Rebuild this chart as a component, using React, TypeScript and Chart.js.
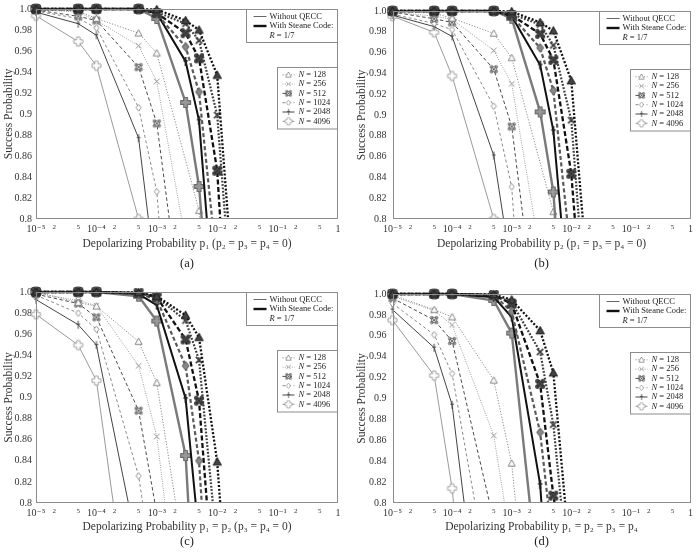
import React, { useEffect, useRef } from 'react';
import { Chart, registerables } from 'chart.js';

Chart.register(...registerables);

const FONT = "'Liberation Serif', 'DejaVu Serif', 'Times New Roman', serif";

// ---------- data ----------
// depolarizing probability grid (x values of the simulated points)
const P_GRID = [1e-5, 5e-5, 1e-4, 5e-4, 1e-3, 3e-3, 5e-3, 1e-2, 2e-2];

const X_TICKS = [1e-5, 2e-5, 5e-5, 1e-4, 2e-4, 5e-4, 1e-3, 2e-3, 5e-3, 1e-2, 2e-2, 5e-2, 1e-1, 2e-1, 5e-1, 1];
const X_TICK_LABELS = ['10⁻⁵', '2', '5', '10⁻⁴', '2', '5', '10⁻³', '2', '5', '10⁻²', '2', '5', '10⁻¹', '2', '5', '1'];
const Y_TICKS = [0.8, 0.82, 0.84, 0.86, 0.88, 0.9, 0.92, 0.94, 0.96, 0.98, 1.0];
const Y_TICK_LABELS = ['0.8', '0.82', '0.84', '0.86', '0.88', '0.9', '0.92', '0.94', '0.96', '0.98', '1.0'];
const N_VALUES = ['128', '256', '512', '1024', '2048', '4096'];
const Y_TITLE = 'Success Probability';
const LEGEND_WITHOUT = 'Without QECC';
const LEGEND_WITH = 'With Steane Code:';
const RATE_TEXT = ' = 1/7';

// (a) p1 only
const A_NO_128 = [1.0, 0.998, 0.991, 0.977, 0.958, null, 0.808, 0.65, null];
const A_NO_256 = [0.9995, 0.997, 0.989, 0.965, 0.931, null, 0.709, null, null];
const A_NO_512 = [0.999, 0.993, 0.989, 0.9446, 0.891, null, 0.584, null, null];
const A_NO_1024 = [0.998, 0.991, 0.982, 0.906, 0.826, null, 0.326, null, null];
const A_NO_2048 = [0.997, 0.986, 0.975, 0.877, 0.734, null, null, null, null];
const A_NO_4096 = [0.9935, 0.969, 0.946, 0.8, 0.6, null, null, null, null];
const A_QC_128 = [1, 1, 1, 1, 0.9995, 0.989, 0.98, 0.937, 0.708];
const A_QC_256 = [1, 1, 1, 1, 0.997, 0.986, 0.97, 0.899, 0.675];
const A_QC_512 = [1, 1, 1, 1, 0.996, 0.977, 0.953, 0.846, 0.567];
const A_QC_1024 = [1, 1, 1, 1, 0.995, 0.964, 0.921, 0.753, null];
const A_QC_2048 = [1, 1, 1, 1, 0.996, 0.95, 0.894, 0.675, null];
const A_QC_4096 = [1, 1, 1, 1, 0.991, 0.911, 0.831, 0.624, null];

// (b) p2 only
const B_NO_128 = [1.0, 0.998, 0.993, 0.9785, 0.955, null, 0.807, 0.65, null];
const B_NO_256 = [0.999, 0.995, 0.992, 0.962, 0.93, null, 0.691, null, null];
const B_NO_512 = [0.999, 0.9925, 0.989, 0.944, 0.889, null, 0.568, null, null];
const B_NO_1024 = [0.997, 0.988, 0.982, 0.9085, 0.831, null, 0.257, null, null];
const B_NO_2048 = [0.996, 0.985, 0.9755, 0.861, 0.749, null, null, null, null];
const B_NO_4096 = [0.995, 0.9795, 0.9375, 0.8, 0.6, null, null, null, null];
const B_QC_128 = [1, 1, 1, 1, 0.9995, 0.989, 0.981, 0.933, 0.725];
const B_QC_256 = [1, 1, 1, 1, 0.997, 0.987, 0.967, 0.895, 0.669];
const B_QC_512 = [1, 1, 1, 1, 0.996, 0.978, 0.953, 0.8435, 0.626];
const B_QC_1024 = [1, 1, 1, 1, 0.995, 0.9645, 0.9235, 0.762, null];
const B_QC_2048 = [1, 1, 1, 1, 0.995, 0.948, 0.885, 0.69, null];
const B_QC_4096 = [1, 1, 1, 1, 0.993, 0.903, 0.826, 0.587, null];

// (c) p1 = p2
const C_NO_128 = [1.0, 0.99, 0.9866, 0.953, 0.914, null, 0.66, null, null];
const C_NO_256 = [0.999, 0.992, 0.987, 0.93, 0.863, null, 0.538, null, null];
const C_NO_512 = [0.998, 0.989, 0.976, 0.8875, 0.79, null, null, null, null];
const C_NO_1024 = [0.997, 0.98, 0.9647, 0.8256, 0.712, null, null, null, null];
const C_NO_2048 = [0.9928, 0.969, 0.9497, 0.752, null, null, null, null, null];
const C_NO_4096 = [0.9788, 0.9497, 0.916, 0.626, null, null, null, null, null];
const C_QC_128 = [1, 1, 1, 0.9995, 0.996, 0.978, 0.957, 0.839, 0.603];
const C_QC_256 = [1, 1, 1, 0.999, 0.995, 0.973, 0.9356, 0.757, null];
const C_QC_512 = [1, 1, 1, 0.999, 0.995, 0.955, 0.897, 0.674, null];
const C_QC_1024 = [1, 1, 1, 0.998, 0.993, 0.93, 0.84, 0.573, null];
const C_QC_2048 = [1, 1, 1, 0.998, 0.9875, 0.899, 0.767, null, null];
const C_QC_4096 = [1, 1, 1, 0.996, 0.9725, 0.845, 0.62, null, null];

// (d) p1 = p2 = p3 = p4
const D_NO_128 = [0.999, 0.985, 0.978, 0.9175, 0.838, null, 0.438, null, null];
const D_NO_256 = [0.998, 0.984, 0.9704, 0.8645, 0.757, null, null, null, null];
const D_NO_512 = [0.996, 0.975, 0.955, 0.783, null, null, null, null, null];
const D_NO_1024 = [0.991, 0.961, 0.9237, 0.699, null, null, null, null, null];
const D_NO_2048 = [0.985, 0.9486, 0.894, 0.57, null, null, null, null, null];
const D_NO_4096 = [0.975, 0.922, 0.814, 0.4, null, null, null, null, null];
const D_QC_128 = [1, 1, 1, 0.9995, 0.9944, 0.965, 0.9246, 0.735, null];
const D_QC_256 = [1, 1, 1, 0.999, 0.992, 0.9446, 0.875, 0.703, null];
const D_QC_512 = [1, 1, 1, 0.999, 0.9907, 0.914, 0.807, 0.7, null];
const D_QC_1024 = [1, 1, 1, 0.999, 0.983, 0.8676, 0.755, null, null];
const D_QC_2048 = [1, 1, 1, 0.997, 0.978, 0.8178, 0.64, null, null];
const D_QC_4096 = [1, 1, 1, 0.9938, 0.9626, 0.708, null, null, null];

// ---------- styles ----------
type Style = { color: string; dash: number[]; width: number; marker: string; fill: string; mstroke: string; msize: number; mlw: number };
const NO_STYLE: Style[] = [
  { color: '#8c8c8c', dash: [1.2, 1.6], width: 1, marker: 'tri', fill: '#fff', mstroke: '#777', msize: 7, mlw: 0.9 },
  { color: '#a0a0a0', dash: [1, 1.3], width: 1, marker: 'x', fill: '#fff', mstroke: '#888', msize: 7, mlw: 0.9 },
  { color: '#4a4a4a', dash: [3.5, 2.5], width: 1, marker: 'box', fill: '#fff', mstroke: '#555', msize: 7.5, mlw: 0.9 },
  { color: '#8a8a8a', dash: [3, 2.5], width: 1, marker: 'diamond', fill: '#fff', mstroke: '#888', msize: 6.5, mlw: 0.9 },
  { color: '#444', dash: [], width: 1, marker: 'bar', fill: '#fff', mstroke: '#444', msize: 8, mlw: 1 },
  { color: '#9a9a9a', dash: [], width: 1, marker: 'plus', fill: '#fff', mstroke: '#999', msize: 9, mlw: 0.9 },
];
const QC_STYLE: Style[] = [
  { color: '#111', dash: [2, 1.8], width: 2.3, marker: 'tri', fill: '#444', mstroke: '#222', msize: 8, mlw: 1.1 },
  { color: '#3c3c3c', dash: [1.8, 1.6], width: 2.2, marker: 'x', fill: '#555', mstroke: '#444', msize: 8, mlw: 1.8 },
  { color: '#111', dash: [5, 2.5], width: 2.3, marker: 'box', fill: '#5a5a5a', mstroke: '#333', msize: 9, mlw: 1.1 },
  { color: '#5a5a5a', dash: [4, 2.5], width: 2.2, marker: 'diamond', fill: '#888', mstroke: '#666', msize: 8.5, mlw: 1.1 },
  { color: '#111', dash: [], width: 2.0, marker: 'bar', fill: '#333', mstroke: '#222', msize: 9, mlw: 1.8 },
  { color: '#7a7a7a', dash: [], width: 2.4, marker: 'plus', fill: '#999', mstroke: '#6a6a6a', msize: 10, mlw: 1.1 },
];

function makeMarker(kind: string, size: number, stroke: string, fill: string, lw: number): HTMLCanvasElement {
  const S = Math.ceil(size + lw * 2 + 2);
  const c = document.createElement('canvas');
  c.width = S;
  c.height = S;
  const g = c.getContext('2d') as CanvasRenderingContext2D;
  const cx = S / 2, cy = S / 2, r = size / 2;
  g.lineWidth = lw;
  g.strokeStyle = stroke;
  g.fillStyle = fill;
  g.lineJoin = 'round';
  g.beginPath();
  if (kind === 'tri') {
    g.moveTo(cx, cy - r);
    g.lineTo(cx + r, cy + r * 0.8);
    g.lineTo(cx - r, cy + r * 0.8);
    g.closePath();
    g.fill();
    g.stroke();
  } else if (kind === 'x') {
    const k = r * 0.8;
    g.moveTo(cx - k, cy - k); g.lineTo(cx + k, cy + k);
    g.moveTo(cx + k, cy - k); g.lineTo(cx - k, cy + k);
    g.stroke();
  } else if (kind === 'box') {
    const k = r * 0.62;
    const lobe = r * 0.38;
    g.arc(cx - k, cy - k, lobe, 0, Math.PI * 2);
    g.moveTo(cx + k + lobe, cy - k); g.arc(cx + k, cy - k, lobe, 0, Math.PI * 2);
    g.moveTo(cx + k + lobe, cy + k); g.arc(cx + k, cy + k, lobe, 0, Math.PI * 2);
    g.moveTo(cx - k + lobe, cy + k); g.arc(cx - k, cy + k, lobe, 0, Math.PI * 2);
    g.fill();
    g.stroke();
    g.beginPath();
    g.rect(cx - k, cy - k, 2 * k, 2 * k);
    g.fill();
    g.stroke();
    g.beginPath();
    g.moveTo(cx - k, cy - k); g.lineTo(cx + k, cy + k);
    g.moveTo(cx + k, cy - k); g.lineTo(cx - k, cy + k);
    g.stroke();
  } else if (kind === 'diamond') {
    g.moveTo(cx, cy - r); g.lineTo(cx + r * 0.8, cy); g.lineTo(cx, cy + r); g.lineTo(cx - r * 0.8, cy);
    g.closePath();
    g.fill();
    g.stroke();
  } else if (kind === 'bar') {
    g.moveTo(cx, cy - r); g.lineTo(cx, cy + r);
    g.moveTo(cx - r * 0.45, cy - r * 0.15); g.lineTo(cx + r * 0.45, cy - r * 0.15);
    g.stroke();
  } else if (kind === 'plus') {
    const a = r * 0.38;
    g.moveTo(cx - a, cy - r); g.lineTo(cx + a, cy - r); g.lineTo(cx + a, cy - a); g.lineTo(cx + r, cy - a);
    g.lineTo(cx + r, cy + a); g.lineTo(cx + a, cy + a); g.lineTo(cx + a, cy + r); g.lineTo(cx - a, cy + r);
    g.lineTo(cx - a, cy + a); g.lineTo(cx - r, cy + a); g.lineTo(cx - r, cy - a); g.lineTo(cx - a, cy - a);
    g.closePath();
    g.fill();
    g.stroke();
  }
  return c;
}

type PanelCfg = {
  caption: string;
  xTitle: string;
  no: (number | null)[][];
  qc: (number | null)[][];
  left: number; top: number; w: number; h: number;
  yAxisW: number; yTickPad: number; yTitlePad: number;
  padTop: number; padRight: number; xAxisH: number;
  capTop: number; capBottom: number;
};

const PANELS: PanelCfg[] = [
  {
    caption: '(a)', xTitle: 'Depolarizing Probability p₁ (p₂ = p₃ = p₄ = 0)',
    no: [A_NO_128, A_NO_256, A_NO_512, A_NO_1024, A_NO_2048, A_NO_4096],
    qc: [A_QC_128, A_QC_256, A_QC_512, A_QC_1024, A_QC_2048, A_QC_4096],
    left: 0, top: 0, w: 348, h: 280, yAxisW: 36, yTickPad: 4, yTitlePad: 2,
    padTop: 5, padRight: 10, xAxisH: 32, capTop: 5, capBottom: 9,
  },
  {
    caption: '(b)', xTitle: 'Depolarizing Probability p₂ (p₁ = p₃ = p₄ = 0)',
    no: [B_NO_128, B_NO_256, B_NO_512, B_NO_1024, B_NO_2048, B_NO_4096],
    qc: [B_QC_128, B_QC_256, B_QC_512, B_QC_1024, B_QC_2048, B_QC_4096],
    left: 348, top: 0, w: 349, h: 280, yAxisW: 44.5, yTickPad: 6, yTitlePad: 7,
    padTop: 5, padRight: 2, xAxisH: 32, capTop: 5, capBottom: 9,
  },
  {
    caption: '(c)', xTitle: 'Depolarizing Probability p₁ = p₂ (p₃ = p₄ = 0)',
    no: [C_NO_128, C_NO_256, C_NO_512, C_NO_1024, C_NO_2048, C_NO_4096],
    qc: [C_QC_128, C_QC_256, C_QC_512, C_QC_1024, C_QC_2048, C_QC_4096],
    left: 0, top: 283, w: 348, h: 273, yAxisW: 36, yTickPad: 4, yTitlePad: 2,
    padTop: 6, padRight: 10, xAxisH: 31, capTop: 0, capBottom: 7,
  },
  {
    caption: '(d)', xTitle: 'Depolarizing Probability p₁ = p₂ = p₃ = p₄',
    no: [D_NO_128, D_NO_256, D_NO_512, D_NO_1024, D_NO_2048, D_NO_4096],
    qc: [D_QC_128, D_QC_256, D_QC_512, D_QC_1024, D_QC_2048, D_QC_4096],
    left: 348, top: 283, w: 349, h: 273, yAxisW: 44.5, yTickPad: 6, yTitlePad: 7,
    padTop: 6, padRight: 2, xAxisH: 31, capTop: 0, capBottom: 7,
  },
];

function toPoints(arr: (number | null)[]) {
  return P_GRID.map((x, i) => ({ x, y: arr[i] })).filter((p) => p.y !== null) as { x: number; y: number }[];
}

function makeLegendPlugin(noMarkers: HTMLCanvasElement[]) {
  return {
    id: 'boxedLegend',
    afterDatasetsDraw(chart: any) {
      const { ctx, chartArea: a } = chart;
      const L = Math.round(a.left) + 0.5;
      const T = Math.round(a.top) + 0.5;
      const R = Math.round(a.right) - 0.5;
      const B = Math.round(a.bottom) - 0.5;
      ctx.save();
      ctx.setLineDash([]);
      ctx.lineCap = 'butt';
      ctx.strokeStyle = '#8c8c8c';
      ctx.lineWidth = 1;
      ctx.strokeRect(L, T, R - L, B - T);

      // box 1 : QECC legend
      const b1x = R - 91;
      ctx.fillStyle = '#fff';
      ctx.fillRect(b1x, T, 91, 33);
      ctx.strokeRect(b1x, T, 91, 33);
      const lx0 = R - 84, lx1 = R - 71, tx = R - 68;
      ctx.strokeStyle = '#666';
      ctx.lineWidth = 1;
      ctx.beginPath(); ctx.moveTo(lx0, T + 7); ctx.lineTo(lx1, T + 7); ctx.stroke();
      ctx.strokeStyle = '#111';
      ctx.lineWidth = 2.4;
      ctx.beginPath(); ctx.moveTo(lx0, T + 16.5); ctx.lineTo(lx1, T + 16.5); ctx.stroke();
      ctx.fillStyle = '#222';
      ctx.textAlign = 'left';
      ctx.textBaseline = 'middle';
      ctx.font = `8.5px ${FONT}`;
      ctx.fillText(LEGEND_WITHOUT, tx, T + 7);
      ctx.fillText(LEGEND_WITH, tx, T + 16.5);
      ctx.font = `italic 8.5px ${FONT}`;
      ctx.fillText('R', tx, T + 26);
      const rw = ctx.measureText('R').width;
      ctx.font = `8.5px ${FONT}`;
      ctx.fillText(RATE_TEXT, tx + rw, T + 26);

      // box 2 : block length legend
      const b2x = R - 60, b2y = T + 58;
      ctx.fillStyle = '#fff';
      ctx.strokeStyle = '#8c8c8c';
      ctx.lineWidth = 1;
      ctx.fillRect(b2x, b2y, 60, 61.5);
      ctx.strokeRect(b2x, b2y, 60, 61.5);
      for (let i = 0; i < N_VALUES.length; i++) {
        const y = b2y + 7.3 + i * 9.3;
        const st = NO_STYLE[i];
        ctx.strokeStyle = st.color;
        ctx.lineWidth = 1;
        ctx.setLineDash(st.dash);
        ctx.beginPath(); ctx.moveTo(R - 55, y); ctx.lineTo(R - 43, y); ctx.stroke();
        ctx.setLineDash([]);
        const m = noMarkers[i];
        const s = 0.8;
        ctx.drawImage(m, R - 49 - (m.width * s) / 2, y - (m.height * s) / 2, m.width * s, m.height * s);
        ctx.fillStyle = '#222';
        ctx.font = `italic 8.5px ${FONT}`;
        ctx.fillText('N', R - 39, y);
        const nw = ctx.measureText('N').width;
        ctx.font = `8.5px ${FONT}`;
        ctx.fillText(' = ' + N_VALUES[i], R - 39 + nw, y);
      }
      ctx.restore();
    },
  };
}

function ChartPanel({ cfg }: { cfg: PanelCfg }) {
  const ref = useRef<HTMLCanvasElement | null>(null);
  useEffect(() => {
    if (!ref.current) return;
    const noMarkers = NO_STYLE.map((s) => makeMarker(s.marker, s.msize, s.mstroke, s.fill, s.mlw));
    const qcMarkers = QC_STYLE.map((s) => makeMarker(s.marker, s.msize, s.mstroke, s.fill, s.mlw));
    const clip = { left: 8, top: 8, right: 8, bottom: 0 };
    const datasets: any[] = [];
    cfg.qc.forEach((arr, i) => {
      const st = QC_STYLE[i];
      datasets.push({
        label: `With Steane Code N = ${N_VALUES[i]}`,
        data: toPoints(arr),
        borderColor: st.color,
        borderWidth: st.width,
        borderDash: st.dash,
        borderCapStyle: 'butt',
        pointStyle: qcMarkers[i],
        pointRadius: 4,
        pointHoverRadius: 4,
        fill: false,
        tension: 0,
        clip,
      });
    });
    cfg.no.forEach((arr, i) => {
      const st = NO_STYLE[i];
      datasets.push({
        label: `Without QECC N = ${N_VALUES[i]}`,
        data: toPoints(arr),
        borderColor: st.color,
        borderWidth: st.width,
        borderDash: st.dash,
        borderCapStyle: 'butt',
        pointStyle: noMarkers[i],
        pointRadius: 4,
        pointHoverRadius: 4,
        fill: false,
        tension: 0,
        clip,
      });
    });

    const chart = new Chart(ref.current, {
      type: 'line',
      data: { datasets },
      options: {
        animation: false,
        responsive: false,
        devicePixelRatio: 1,
        events: [],
        layout: { padding: { left: 0, right: cfg.padRight, top: cfg.padTop, bottom: 0 } },
        plugins: {
          legend: { display: false },
          tooltip: { enabled: false },
          title: {
            display: true,
            position: 'bottom',
            fullSize: false,
            text: cfg.caption,
            color: '#222',
            font: { family: FONT, size: 12.5, weight: 'normal' },
            padding: { top: cfg.capTop, bottom: cfg.capBottom },
          },
        },
        scales: {
          x: {
            type: 'logarithmic',
            min: 1e-5,
            max: 1,
            afterBuildTicks: (s: any) => {
              s.ticks = X_TICKS.map((v) => ({ value: v }));
            },
            afterFit: (s: any) => {
              s.height = cfg.xAxisH;
            },
            grid: { display: false, drawTicks: false },
            border: { display: false },
            ticks: {
              autoSkip: false,
              maxRotation: 0,
              minRotation: 0,
              padding: 4,
              color: '#333',
              callback: (_v: any, i: number) => X_TICK_LABELS[i],
              font: (c: any) => {
                const v = c.tick ? c.tick.value : 1;
                const lg = Math.log10(v);
                const major = Math.abs(lg - Math.round(lg)) < 1e-6;
                return { family: FONT, size: major ? 10 : 7, lineHeight: 1.2 };
              },
            },
            title: {
              display: true,
              text: cfg.xTitle,
              color: '#333',
              font: { family: FONT, size: 11.5 },
              padding: 0,
            },
          },
          y: {
            type: 'linear',
            min: 0.8,
            max: 1.0,
            afterBuildTicks: (s: any) => {
              s.ticks = Y_TICKS.map((v) => ({ value: v }));
            },
            afterFit: (s: any) => {
              s.width = cfg.yAxisW;
            },
            grid: { display: false, drawTicks: false },
            border: { display: false },
            ticks: {
              padding: cfg.yTickPad,
              color: '#333',
              callback: (_v: any, i: number) => Y_TICK_LABELS[i],
              font: { family: FONT, size: 10, lineHeight: 1 },
            },
            title: {
              display: true,
              text: Y_TITLE,
              color: '#333',
              font: { family: FONT, size: 11.5 },
              padding: { top: cfg.yTitlePad, bottom: 0 },
            },
          },
        },
      } as any,
      plugins: [makeLegendPlugin(noMarkers)],
    } as any);
    return () => chart.destroy();
  }, [cfg]);
  return (
    <canvas
      ref={ref}
      width={cfg.w}
      height={cfg.h}
      style={{ position: 'absolute', left: cfg.left, top: cfg.top, width: cfg.w, height: cfg.h }}
    />
  );
}

export default function App() {
  return (
    <div style={{ position: 'absolute', left: 0, top: 0, width: 697, height: 556, background: '#fff', overflow: 'hidden' }}>
      {PANELS.map((p) => (
        <ChartPanel key={p.caption} cfg={p} />
      ))}
    </div>
  );
}
